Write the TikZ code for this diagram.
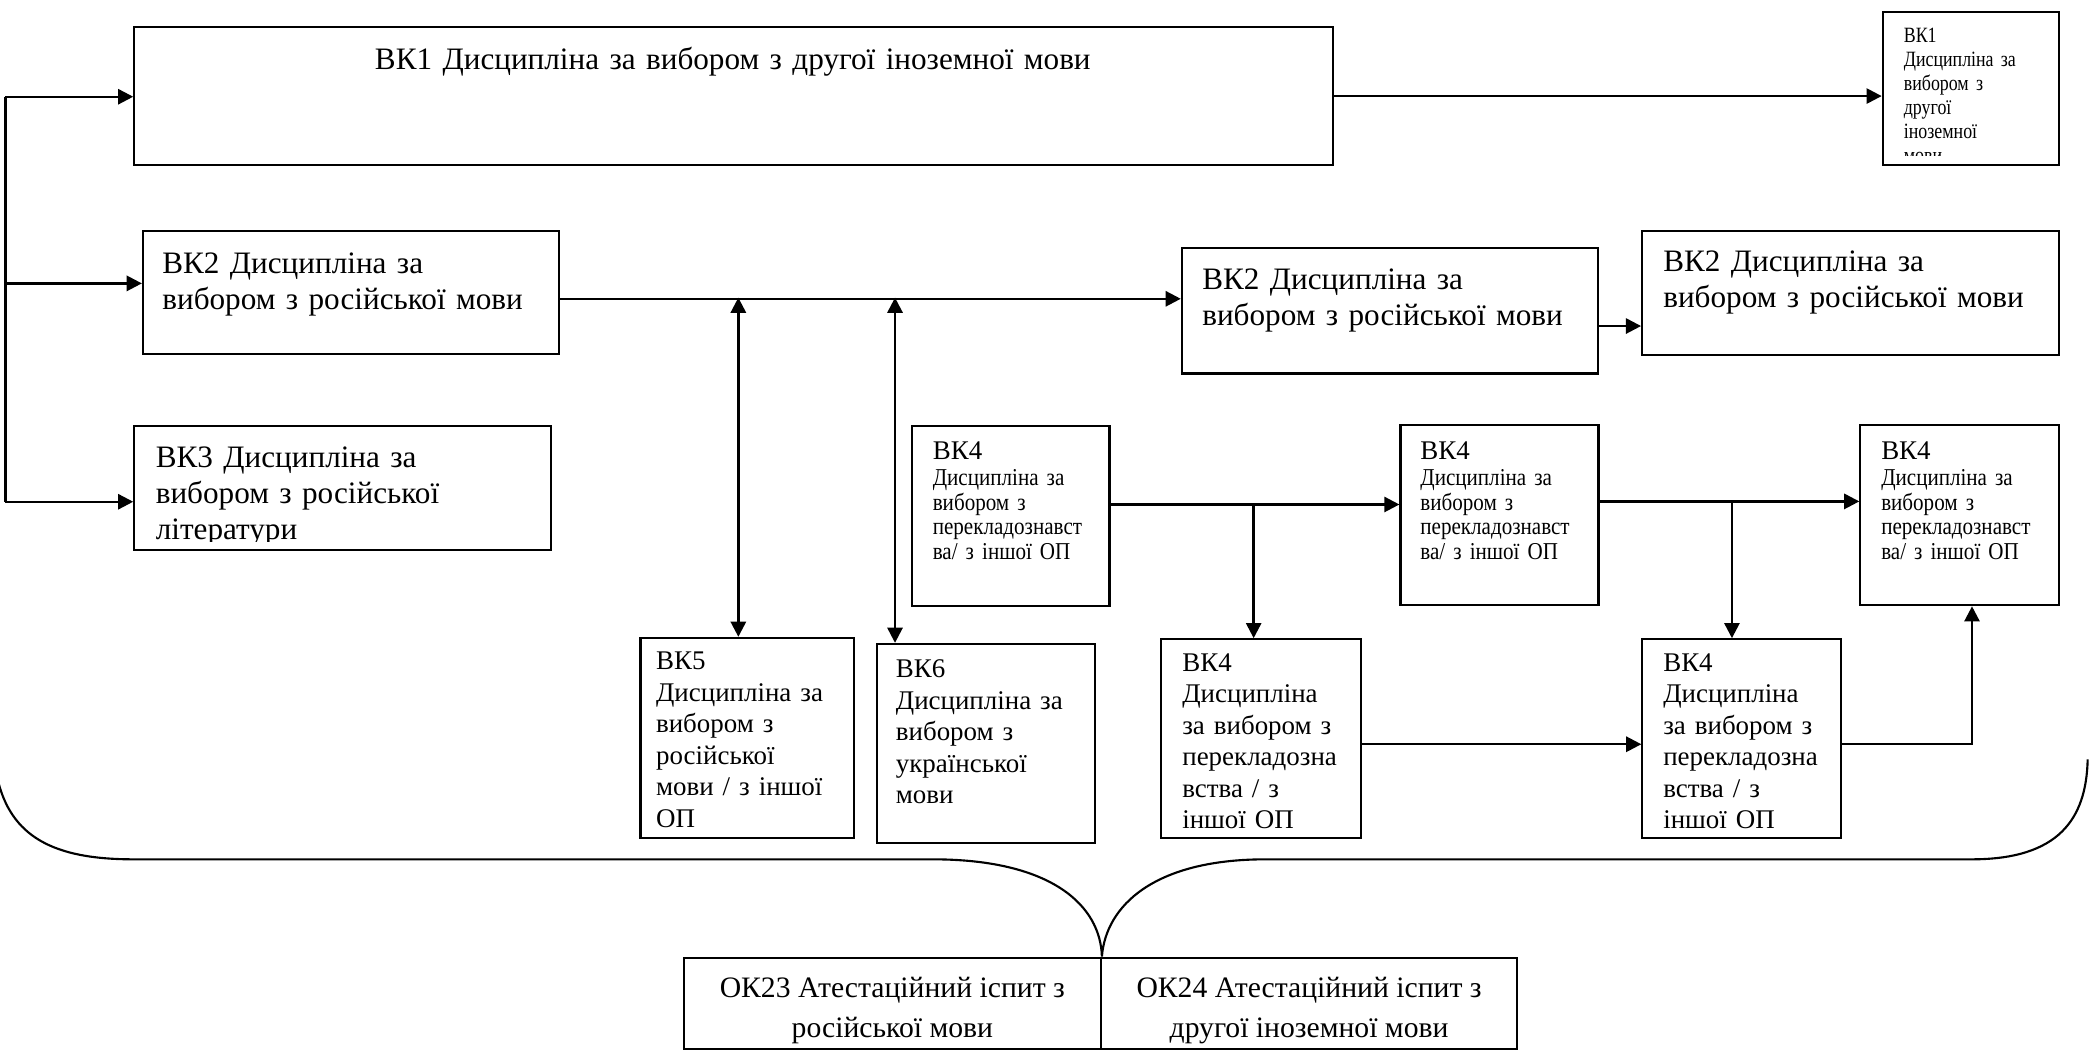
\documentclass[tikz,border=0pt]{standalone}
\usepackage{fontspec}
\setmainfont{Liberation Serif}
\newfontfamily\condserif[FakeStretch=0.87]{Liberation Serif}
\newfontfamily\tinyserif[FakeStretch=0.82]{Liberation Serif}
\usepackage{tikz}
\usetikzlibrary{positioning}
\usetikzlibrary{calc,arrows.meta}

\newcommand\txtmain{\fontsize{10.3}{11.9}\selectfont}
\newcommand\txtmid{\fontsize{8.9}{10.4}\selectfont}
\newcommand\txtsmall{\condserif\fontsize{8}{8.1}\selectfont}
\newcommand\txttiny{\tinyserif\fontsize{7.2}{7.9}\selectfont}
\newcommand\txtok{\fontsize{9.8}{13.2}\selectfont}
\newcommand\hdfour{{\normalfont\fontsize{8.9}{8.9}\selectfont ВК4}}

\begin{document}
\begin{tikzpicture}[x=0.44pt,y=-0.44pt,>={Triangle[length=5pt,width=5pt]},
  box/.style={draw,line width=0.7pt,inner sep=0pt,anchor=north west},
  sz/.style 2 args={minimum width=#1*0.44pt,minimum height=#2*0.44pt},
  txt/.style={inner sep=0pt,anchor=north west,text width=300pt,align=left},
  conn/.style={line width=0.8pt},
  arr/.style={conn,->},
  dbl/.style={conn,<->}]
  \useasboundingbox (0,0) rectangle (1568,788);

  % top row
  \node (bk1) [box, sz={900}{104}] at (100,19.3) {};
  \node (bk1t) [txt, font=\txtmain] at (281,35) {ВК1 Дисципліна за вибором з другої іноземної мови};
  \node (bk1s) [box, sz={132.6}{115}] at (1412.4,8.3) {};
  \begin{scope}
    \clip (bk1s.north west) rectangle ([yshift=3.6pt]bk1s.south east);
    \node (bk1st) [txt, font=\txttiny] at (1428.6,21) {ВК1\\Дисципліна за\\вибором з\\другої\\іноземної\\мови};
  \end{scope}

  % second row
  \node (bk2l) [box, sz={312.5}{92.6}] at (106.5,172.4) {};
  \node (bk2lt) [txt, font=\txtmain] at (121.4,189) {ВК2 Дисципліна за\\вибором з російської мови};
  \node (bk2m) [box, sz={312.5}{93.9}] at (886.3,185.6) {};
  \node (bk2mt) [txt, font=\txtmain] at (902,201.5) {ВК2 Дисципліна за\\вибором з російської мови};
  \node (bk2r) [box, sz={312.7}{93.1}] at (1231.8,172.6) {};
  \node (bk2rt) [txt, font=\txtmain] at (1248,188) {ВК2 Дисципліна за\\вибором з російської мови};

  % third row
  \node (bk3) [box, sz={313}{93}] at (100,319) {};
  \begin{scope}
    \clip (bk3.north west) rectangle ([yshift=3pt]bk3.south east);
    \node (bk3t) [txt, font=\txtmain] at (116.5,335) {ВК3 Дисципліна за\\вибором з російської\\літератури};
  \end{scope}
  \node (bk4a) [box, sz={148}{135}] at (684,319) {};
  \node (bk4at) [txt, font=\txtsmall] at (699.7,331) {\hdfour\\[0.6pt]Дисципліна за\\вибором з\\перекладознавст\\ва/ з іншої ОП};
  \node (bk4b) [box, sz={148.6}{135}] at (1050.4,318.5) {};
  \node (bk4bt) [txt, font=\txtsmall] at (1065.7,331) {\hdfour\\[0.6pt]Дисципліна за\\вибором з\\перекладознавст\\ва/ з іншої ОП};
  \node (bk4c) [box, sz={149.4}{135}] at (1395.6,318.5) {};
  \node (bk4ct) [txt, font=\txtsmall] at (1411.6,331) {\hdfour\\[0.6pt]Дисципліна за\\вибором з\\перекладознавст\\ва/ з іншої ОП};

  % bottom row
  \node (bk5) [box, sz={160}{150}] at (480,478) {};
  \node (bk5t) [txt, font=\txtmid] at (492,489) {ВК5\\Дисципліна за\\вибором з\\російської\\мови / з іншої\\ОП};
  \node (bk6) [box, sz={163.5}{149.5}] at (657.5,482.5) {};
  \node (bk6t) [txt, font=\txtmid] at (672,495) {ВК6\\Дисципліна за\\вибором з\\української\\мови};
  \node (bk4d) [box, sz={150}{149}] at (870.5,479) {};
  \node (bk4dt) [txt, font=\txtmid] at (887,490) {ВК4\\Дисципліна\\за вибором з\\перекладозна\\вства / з\\іншої ОП};
  \node (bk4e) [box, sz={149.3}{149}] at (1232,479) {};
  \node (bk4et) [txt, font=\txtmid] at (1248,490) {ВК4\\Дисципліна\\за вибором з\\перекладозна\\вства / з\\іншої ОП};

  % attestation
  \node (ok23) [box, sz={313}{68.7}] at (512.5,718) {};
  \node (ok23t) [align=center, inner sep=0pt, font=\txtok] at ([yshift=-2.2pt]ok23.center) {ОК23 Атестаційний іспит з\\російської мови};
  \node (ok24) [box, sz={312.4}{68.7}] at (825.6,718) {};
  \node (ok24t) [align=center, inner sep=0pt, font=\txtok] at ([yshift=-2.2pt]ok24.center) {ОК24 Атестаційний іспит з\\другої іноземної мови};

  % connectors
  \coordinate (trunk) at (4,72.6);
  \coordinate (j2) at (4,212.7);
  \coordinate (trunkb) at (4,376.6);
  \draw[conn] (trunk) -- (trunkb);
  \draw[arr] (trunk) -- (trunk -| bk1.west);
  \draw[arr] (j2) -- (j2 -| bk2l.west);
  \draw[arr] (trunkb) -- (trunkb -| bk3.west);
  \draw[arr] (bk1.east) -- (bk1.east -| bk1s.west);

  \coordinate (bus) at ([yshift=-2.1pt]bk2l.east);
  \draw[arr] (bus) -- (bus -| bk2m.west);
  \coordinate (v5) at (554.2,223.4);
  \coordinate (v6) at (671.8,223.4);
  \draw[dbl] (v5) -- (v5 |- bk5.north);
  \draw[dbl] (v6) -- (v6 |- bk6.north);
  \draw[arr] ([yshift=-5pt]bk2m.east) -- ([yshift=-5pt]bk2m.east -| bk2r.west);

  \draw[arr] ([yshift=3.8pt]bk4a.east) -- ([yshift=3.8pt]bk4a.east -| bk4b.west);
  \draw[arr] ([yshift=4.6pt]bk4b.east) -- ([yshift=4.6pt]bk4b.east -| bk4c.west);
  \coordinate (br1) at (941,377.8);
  \coordinate (br2) at (1300,375.8);
  \draw[arr] (br1) -- (br1 |- bk4d.north);
  \draw[arr] (br2) -- (br2 |- bk4e.north);
  \draw[arr] ([yshift=-1.9pt]bk4d.east) -- ([yshift=-1.9pt]bk4d.east -| bk4e.west);
  \draw[arr] ([yshift=-1.9pt]bk4e.east) -| ([xshift=4pt]bk4c.south);

  % brace
  \draw[line width=0.7pt] (-2,584) .. controls (8,628) and (40,645) .. (100,645) -- (700,645)
    .. controls (790,645) and (826,680) .. (ok23.north east)
    .. controls (830,680) and (866,645) .. (950,645) -- (1480,645)
    .. controls (1545,645) and (1566,615) .. (1567,570);
\end{tikzpicture}
\end{document}
